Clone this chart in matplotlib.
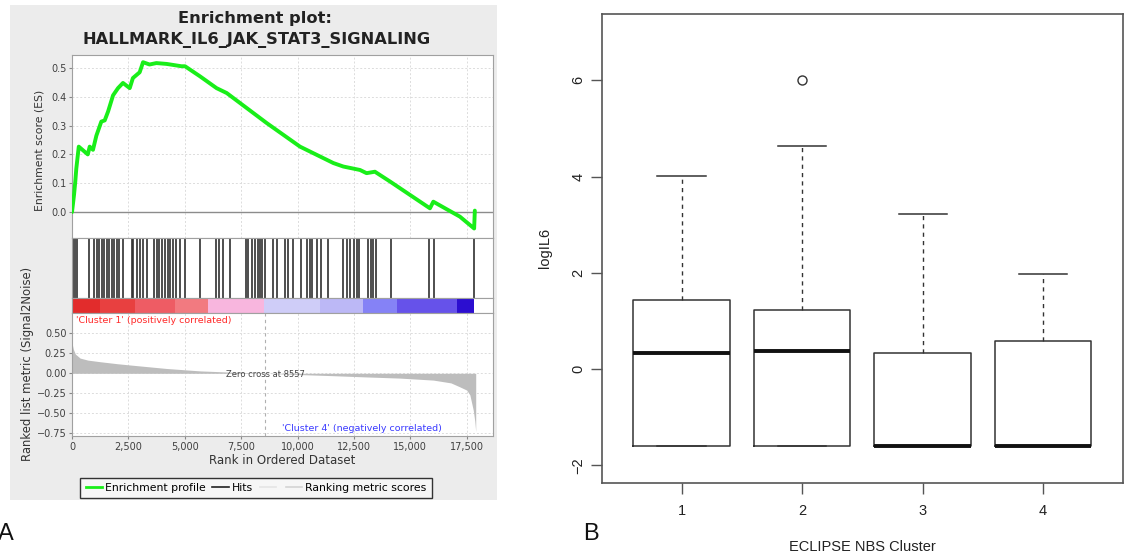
import matplotlib
matplotlib.use('Agg')
import matplotlib.pyplot as plt
from matplotlib.patches import Rectangle
from matplotlib.lines import Line2D

# ---------------- data ----------------
es_rank = [0, 45, 90, 145, 190, 300, 700, 785, 930, 1080, 1300, 1450, 1600, 1820,
           2040, 2260, 2560, 2700, 3000, 3150, 3440, 3740, 4200, 4850, 5010, 5675,
           6410, 6860, 8630, 10110, 11590, 12030, 12770, 13060, 13430, 14100,
           15870, 16020, 17200, 17830, 17860]
es_value = [0.0, 0.03, 0.06, 0.105, 0.15, 0.227, 0.20, 0.227, 0.216, 0.265, 0.314,
            0.318, 0.349, 0.405, 0.43, 0.448, 0.43, 0.465, 0.485, 0.52, 0.512, 0.517,
            0.514, 0.506, 0.506, 0.471, 0.43, 0.413, 0.309, 0.227, 0.17, 0.158, 0.146,
            0.135, 0.14, 0.106, 0.013, 0.036, -0.016, -0.057, 0.005]

hit_ranks = [60, 150, 200, 750, 975, 1110, 1200, 1330, 1420, 1550, 1640, 1770, 1860,
             2000, 2080, 2260, 2660, 2700, 2880, 3010, 3150, 3320, 3640, 3770, 3860,
             3990, 4120, 4260, 4340, 4480, 4610, 4790, 5010, 5670, 6380, 6520, 6690,
             7000, 7710, 7800, 7980, 8110, 8250, 8330, 8420, 8560, 8910, 9090, 9440,
             9580, 9800, 10150, 10420, 10550, 10640, 10860, 11040, 11350, 12010,
             12190, 12320, 12500, 12630, 12720, 13120, 13250, 13340, 13480, 14140,
             15830, 16050, 17820]

metric_rank = [0, 60, 150, 360, 700, 1240, 2000, 2720, 4200, 5675, 7000, 8557,
               10000, 11590, 13000, 14540, 16020, 16800, 17200, 17500, 17640, 17790,
               17860, 17900]
metric_value = [0.38, 0.30, 0.24, 0.19, 0.165, 0.145, 0.12, 0.10, 0.06, 0.03, 0.015,
                0.0, -0.015, -0.03, -0.045, -0.06, -0.085, -0.12, -0.17, -0.21, -0.27,
                -0.46, -0.60, -0.73]
zero_cross = 8557

cbar_edges = [0, 1240, 2790, 4570, 6030, 8510, 10990, 12900, 14400, 17070, 17820]
cbar_colors = ['#e22c2c', '#e84040', '#ee5c64', '#f27a80', '#f8b6de', '#cfcdf8',
               '#bcb8f6', '#8582f6', '#6652ea', '#2c0ed0']

es_ticks = [0.0, 0.1, 0.2, 0.3, 0.4, 0.5]
metric_ticks = [0.50, 0.25, 0.00, -0.25, -0.50, -0.75]
rank_ticks = [0, 2500, 5000, 7500, 10000, 12500, 15000, 17500]

clusters = [1, 2, 3, 4]
box_whislo = [-1.6, -1.6, -1.6, -1.6]
box_q1 = [-1.6, -1.6, -1.6, -1.6]
box_med = [0.34, 0.37, -1.6, -1.6]
box_q3 = [1.44, 1.22, 0.33, 0.58]
box_whishi = [4.02, 4.63, 3.22, 1.97]
box_fliers = [[], [6.0], [], []]
il6_ticks = [-2, 0, 2, 4, 6]

# ---------------- figure ----------------
W, H = 1126, 558
fig = plt.figure(figsize=(W / 100, H / 100), dpi=100)


def fx(px):
    return px / W


def fy(py):
    return 1 - py / H


def rect(l, t, r, b):
    return [fx(l), fy(b), fx(r) - fx(l), fy(t) - fy(b)]


# light grey panel behind the GSEA plot
fig.add_artist(Rectangle((fx(10), fy(500)), fx(497) - fx(10), fy(5) - fy(500),
                         transform=fig.transFigure, facecolor='#ececec',
                         edgecolor='none', zorder=-5))

xmax = 18666
spine_c = '#a0a0a0'
grid_kw = dict(color='#dcdcdc', ls=(0, (2, 2)), lw=0.7)
tick_fs = 7

# --- enrichment score axes
ax1 = fig.add_axes(rect(72, 55, 493, 238))
ax1.plot(es_rank, es_value, color='#19ee19', lw=2.8, solid_joinstyle='round',
         solid_capstyle='round', zorder=3)
ax1.axhline(0, color='#8c8c8c', lw=1, zorder=2)
ax1.set_xlim(0, xmax)
ax1.set_ylim(-0.09, 0.545)
ax1.set_yticks(es_ticks)
ax1.set_yticklabels([f'{v:.1f}' for v in es_ticks], fontsize=tick_fs, color='#404040')
ax1.set_xticks(rank_ticks)
ax1.tick_params(axis='x', labelbottom=False, length=0)
ax1.tick_params(axis='y', length=2, color='#888', pad=2)
ax1.grid(True, **grid_kw)
ax1.set_axisbelow(True)
for s in ax1.spines.values():
    s.set_color(spine_c)
fig.text(fx(40), fy(150), 'Enrichment score (ES)', rotation=90, ha='center',
         va='center', fontsize=7.8, color='#333')

# --- hits axes
ax2 = fig.add_axes(rect(72, 238, 493, 298))
ax2.vlines(hit_ranks, 0, 1, color='#303030', lw=1.2)
ax2.set_xlim(0, xmax)
ax2.set_ylim(0, 1)
ax2.set_xticks([])
ax2.set_yticks([])
for s in ax2.spines.values():
    s.set_color(spine_c)

# --- colour bar axes
ax3 = fig.add_axes(rect(72, 298, 493, 313))
for i, c in enumerate(cbar_colors):
    ax3.axvspan(cbar_edges[i], cbar_edges[i + 1], color=c, lw=0)
ax3.set_xlim(0, xmax)
ax3.set_ylim(0, 1)
ax3.set_xticks([])
ax3.set_yticks([])
for s in ax3.spines.values():
    s.set_color(spine_c)

# --- ranked metric axes
ax4 = fig.add_axes(rect(72, 313, 493, 436))
ax4.fill_between(metric_rank, metric_value, 0, color='#bdbdbd', lw=0, zorder=2)
ax4.axvline(zero_cross, color='#b0b0b0', ls=(0, (3, 3)), lw=0.8, zorder=1)
ax4.set_xlim(0, xmax)
ax4.set_ylim(-0.784, 0.754)
ax4.set_yticks(metric_ticks)
ax4.set_yticklabels([f'{v:.2f}'.replace('-', '\u2212') for v in metric_ticks],
                    fontsize=tick_fs, color='#404040')
ax4.set_xticks(rank_ticks)
ax4.set_xticklabels([f'{v:,}' for v in rank_ticks], fontsize=tick_fs, color='#404040')
ax4.tick_params(length=2, color='#888', pad=2)
ax4.grid(True, **grid_kw)
ax4.set_axisbelow(True)
for s in ax4.spines.values():
    s.set_color(spine_c)
ax4.set_xlabel('Rank in Ordered Dataset', fontsize=8.5, color='#333', labelpad=2)
ax4.text(zero_cross, -0.01, 'Zero cross at 8557', ha='center', va='center',
         fontsize=6, color='#444', zorder=4)
ax4.text(180, 0.665, "'Cluster 1' (positively correlated)", ha='left', va='center',
         fontsize=6.8, color='#ff2a2a')
ax4.text(12860, -0.69, "'Cluster 4' (negatively correlated)", ha='center', va='center',
         fontsize=6.8, color='#3a3aff')

fig.text(fx(28), fy(364), 'Ranked list metric (Signal2Noise)', rotation=90,
         ha='center', va='center', fontsize=8.4, color='#333')

# title
fig.text(fx(255), fy(19), 'Enrichment plot:', ha='center', va='center',
         fontsize=11.7, fontweight='bold', color='#222')
fig.text(fx(257), fy(40), 'HALLMARK_IL6_JAK_STAT3_SIGNALING', ha='center',
         va='center', fontsize=11.7, fontweight='bold', color='#222')

# legend
handles = [Line2D([], [], color='#19ee19', lw=2),
           Line2D([], [], color='#222', lw=1.2),
           Line2D([], [], color='#e4e4e4', lw=1.2),
           Line2D([], [], color='#d4d4d4', lw=1.2)]
labels = ['Enrichment profile', 'Hits', '', 'Ranking metric scores']
leg = fig.legend(handles, labels, loc='center', bbox_to_anchor=(fx(256), fy(488)),
                 ncol=4, fontsize=7.8, frameon=True, fancybox=False,
                 edgecolor='#333', facecolor='#f6f6f6', framealpha=1,
                 handlelength=1.5, handletextpad=0.3, columnspacing=0.6,
                 borderpad=0.5)
leg.get_frame().set_linewidth(1.0)

fig.text(fx(-2), fy(534), 'A', ha='left', va='center', fontsize=17,
         family='Liberation Sans', color='#111')

# ---------------- box plot panel ----------------
axb = fig.add_axes(rect(602, 14, 1122.7, 482.7))
stats = []
for i in range(len(clusters)):
    stats.append(dict(whislo=box_whislo[i], q1=box_q1[i], med=box_med[i],
                      q3=box_q3[i], whishi=box_whishi[i], fliers=box_fliers[i],
                      label=str(clusters[i])))
line_c = '#333333'
axb.bxp(stats, positions=clusters, widths=0.8, capwidths=0.4, showfliers=True,
        boxprops=dict(color=line_c, lw=1.1),
        whiskerprops=dict(color=line_c, lw=1.0, ls=(0, (3, 3))),
        capprops=dict(color=line_c, lw=1.1),
        medianprops=dict(color='#111111', lw=2.8, solid_capstyle='butt'),
        flierprops=dict(marker='o', mfc='none', mec=line_c, ms=6.5, mew=1.0))
axb.set_xlim(0.34, 4.66)
axb.set_ylim(-2.364, 7.38)
axb.set_xticks(clusters)
axb.set_xticklabels([str(c) for c in clusters], fontsize=10.5,
                    family='Liberation Sans', color='#222')
axb.set_yticks(il6_ticks)
axb.set_yticklabels([str(v).replace('-', '\u2212') for v in il6_ticks], rotation=90,
                    va='center', fontsize=10.5, family='Liberation Sans', color='#222')
axb.tick_params(length=8, width=1, color='#555')
axb.tick_params(axis='x', pad=7)
axb.tick_params(axis='y', pad=4)
for s in axb.spines.values():
    s.set_color('#555')
    s.set_linewidth(1.2)
axb.set_ylabel('logIL6', fontsize=10.5, family='Liberation Sans', color='#222',
               labelpad=14)
axb.set_xlabel('ECLIPSE NBS Cluster', fontsize=10.5, family='Liberation Sans',
               color='#222', labelpad=16)

fig.text(fx(583), fy(534), 'B', ha='left', va='center', fontsize=17,
         family='Liberation Sans', color='#111')

fig.savefig('out.png', dpi=100)
